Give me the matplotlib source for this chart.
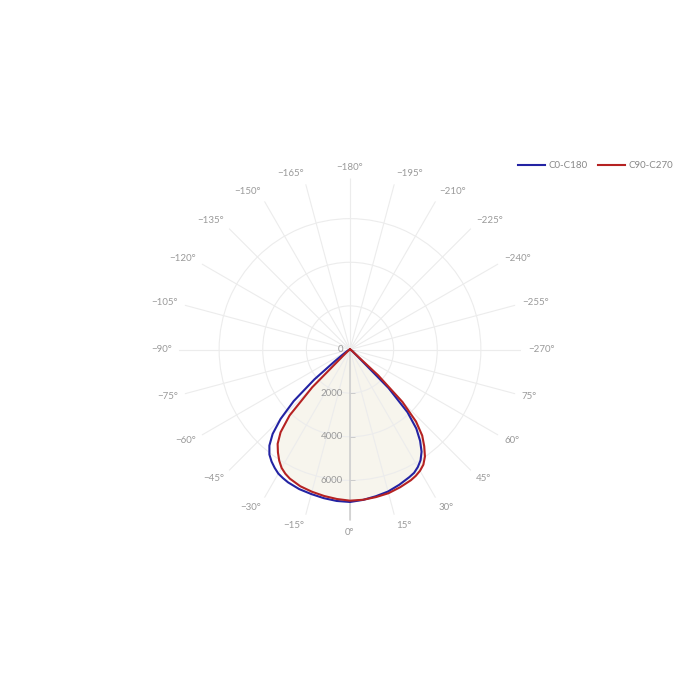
import numpy as np
import matplotlib.pyplot as plt

plt.rcParams['font.family'] = ['Lato', 'DejaVu Sans']

# gamma angle (deg) and luminous intensity for the two C-planes
angles = [-90, -80, -70, -65, -60, -57.5, -55, -52.5, -50, -47.5, -45, -42.5, -40, -37.5,
          -35, -32.5, -30, -27.5, -25, -20, -15, -10, -5, 0, 5, 10, 15, 20, 25, 27.5,
          30, 32.5, 35, 37.5, 40, 42.5, 45, 47.5, 50, 52.5, 55, 60, 65, 70, 80, 90]
c0_c180 = [0, 10, 50, 90, 170, 250, 400, 850, 2130, 3500, 4500, 5250, 5750, 6070,
           6270, 6430, 6570, 6650, 6720, 6810, 6860, 6920, 6970, 6990, 6920, 6830, 6740, 6600, 6450, 6370,
           6220, 6020, 5720, 5280, 4730, 3900, 2500, 500, 250, 150, 100, 50, 30, 20, 10, 0]
c90_c270 = [0, 10, 30, 40, 50, 60, 90, 130, 200, 450, 2450, 4100, 4950, 5450,
            5760, 6040, 6270, 6420, 6530, 6670, 6750, 6820, 6880, 6930, 6915, 6870, 6820, 6720, 6610, 6530,
            6420, 6260, 5990, 5590, 5150, 4480, 3400, 1750, 300, 200, 150, 80, 50, 30, 10, 0]

angle_ticks = list(range(0, 360, 15))
angle_labels = [f'{a}°' if a < 90 else f'\u2212{360 - a}°' for a in angle_ticks]
radial_ticks = [0, 2000, 4000, 6000]
r_max = 7840

GRID = '#ececec'
TEXT = '#9a9a9a'
AXIS = '#cccccc'
BLUE = '#2323a3'
RED = '#b52222'

fig = plt.figure(figsize=(7, 7), dpi=100)
ax = fig.add_axes([0.2557, 0.2564, 0.4886, 0.4886], projection='polar')
ax.set_theta_zero_location('S')
ax.set_theta_direction(1)
ax.set_ylim(0, r_max)

theta = np.deg2rad(angles)
ax.fill(theta, c90_c270, color='#ebe6d2', alpha=0.38, lw=0, zorder=1)
ax.plot(theta, c0_c180, color=BLUE, lw=1.5, zorder=4, label='C0-C180')
ax.plot(theta, c90_c270, color=RED, lw=1.5, zorder=4, label='C90-C270')

ax.set_thetagrids(angle_ticks, [''] * len(angle_ticks))
ax.set_rgrids(radial_ticks[1:], labels=[])
ax.grid(True, color=GRID, lw=0.8)
ax.spines['polar'].set_visible(False)
ax.tick_params(axis='x', length=0)

# angular labels, anchored outside the plot edge like plotly does
gap, half_h = 7, 4.5  # px
for a, lab in zip(angle_ticks, angle_labels):
    phi = np.deg2rad(a - 90)
    c, s = np.cos(phi), np.sin(phi)
    ha = 'left' if c > 0.1 else ('right' if c < -0.1 else 'center')
    ax.annotate(lab, (np.deg2rad(a), r_max),
                xytext=(gap * c * 0.72, (gap + half_h) * s * 0.72),
                textcoords='offset points', ha=ha, va='center',
                color=TEXT, fontsize=7, annotation_clip=False)

# radial axis along 0 deg
ax.plot([0, 0], [0, r_max], color=AXIS, lw=1.1, zorder=3)
ax.plot(np.zeros(len(radial_ticks)), radial_ticks, linestyle='none',
        marker=1, ms=3.5, mew=0.7, color=AXIS, zorder=3)
for r in radial_ticks:
    ax.annotate(f'{r}', (0, r), xytext=(-5, 0), textcoords='offset points',
                ha='right', va='center', color=TEXT, fontsize=7, zorder=5)

handles, labels = ax.get_legend_handles_labels()
fig.legend(handles, labels, ncol=2, loc='center left',
           bbox_to_anchor=(0.728, 1 - 166 / 700), frameon=False, fontsize=7,
           handlelength=2.7, handletextpad=0.4, columnspacing=1.1,
           labelcolor='#888888')

fig.savefig('out.png', dpi=100, facecolor='white')
